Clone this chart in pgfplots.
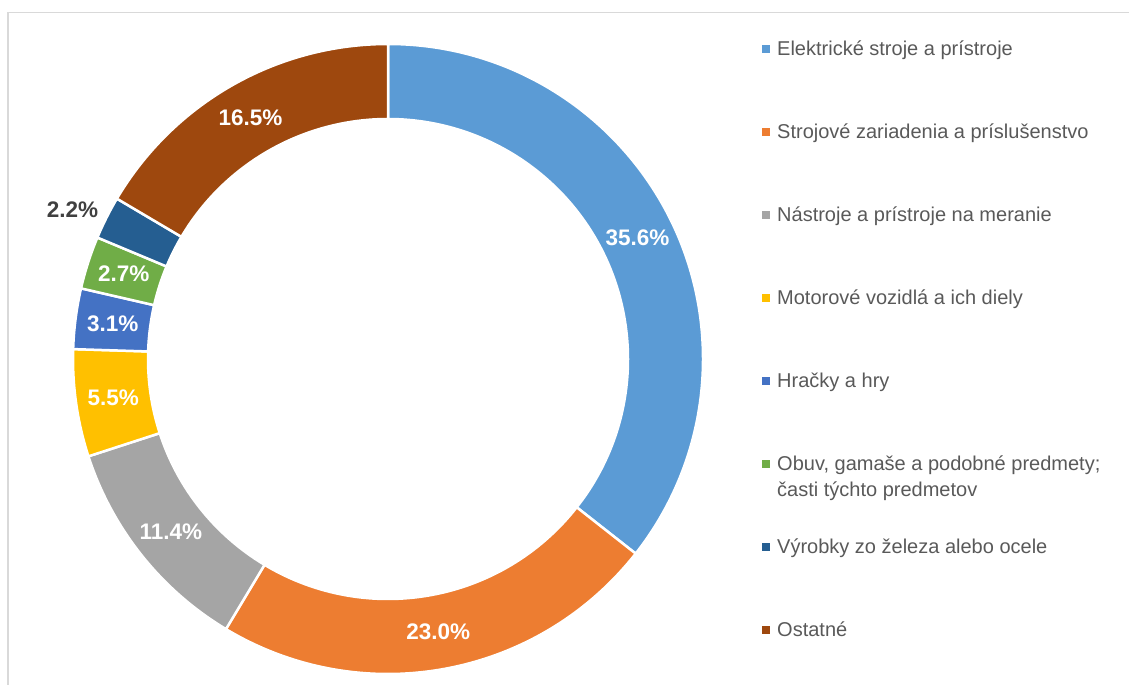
\documentclass[border=0pt]{standalone}
\usepackage{fontspec}
\setmainfont{Liberation Sans}
\usepackage{pgfplots}
\usepackage{pgfplotstable}
\pgfplotsset{compat=1.18}

\definecolor{c1}{HTML}{5B9BD5}
\definecolor{c2}{HTML}{ED7D31}
\definecolor{c3}{HTML}{A5A5A5}
\definecolor{c4}{HTML}{FFC000}
\definecolor{c5}{HTML}{4472C4}
\definecolor{c6}{HTML}{70AD47}
\definecolor{c7}{HTML}{255E91}
\definecolor{c8}{HTML}{9E480E}
\definecolor{dark}{HTML}{404040}
\definecolor{legtext}{HTML}{595959}
\definecolor{frame}{HTML}{D9D9D9}

% share in percent, fill, label colour, label radius (pt), label angle shift
\pgfplotstableread{
v    c  lc    lr    la
35.6 c1 white 277.5 0
23.0 c2 white 277.5 0
11.4 c3 white 277.5 0
5.5  c4 white 277.5 0
3.1  c5 white 277.5 0
2.7  c6 white 277.5 0
2.2  c7 dark  349   1.3
16.5 c8 white 277.5 0
}\donut

\newcommand\labfont{\fontsize{22.5}{26}\selectfont\bfseries}
\newcommand\legfont{\fontsize{20}{26}\selectfont}

\begin{document}
\begin{tikzpicture}
\path[use as bounding box] (0,0) rectangle (1129pt,685pt);
\begin{axis}[at={(0,0)},anchor=south west,width=1129pt,height=685pt,scale only axis,
  hide axis,clip=false,xmin=0,xmax=1129,ymin=0,ymax=685]
\draw[frame,line width=1.5pt] (axis cs:1129,672.5) -- (axis cs:8,672.5) -- (axis cs:8,0);
\def\cum{0}
\pgfplotsforeachungrouped \i in {0,...,7}{%
  \pgfplotstablegetelem{\i}{v}\of\donut \let\v\pgfplotsretval
  \pgfplotstablegetelem{\i}{c}\of\donut \let\c\pgfplotsretval
  \pgfplotstablegetelem{\i}{lc}\of\donut \let\lc\pgfplotsretval
  \pgfplotstablegetelem{\i}{lr}\of\donut \let\lr\pgfplotsretval
  \pgfplotstablegetelem{\i}{la}\of\donut \let\la\pgfplotsretval
  \pgfmathsetmacro\a{90-3.6*\cum}
  \pgfmathsetmacro\cum{\cum+\v}
  \pgfmathsetmacro\b{90-3.6*\cum}
  \pgfmathsetmacro\m{(\a+\b)/2+\la}
  \edef\temp{\noexpand\draw[fill=\c,draw=white,line width=2.5pt]
    ([shift={(\a:315pt)}]axis cs:388,326) arc[start angle=\a,end angle=\b,radius=315pt]
    -- ([shift={(\b:240pt)}]axis cs:388,326) arc[start angle=\b,end angle=\a,radius=240pt] -- cycle;
    \noexpand\node[text=\lc,font=\noexpand\labfont] at ([shift={(\m:\lr pt)}]axis cs:388,326) {\v\noexpand\%};}
  \temp
}
% legend
\pgfplotsinvokeforeach{%
  1/636/{Elektrické stroje a prístroje},
  2/553/{Strojové zariadenia a príslušenstvo},
  3/470/{Nástroje a prístroje na meranie},
  4/387/{Motorové vozidlá a ich diely},
  5/304/{Hračky a hry},
  6/221/{Obuv, gamaše a podobné predmety;},
  7/138/{Výrobky zo železa alebo ocele},
  8/55/{Ostatné}}{%
  \pgfkeys{/legitem/.code args={##1/##2/##3}{%
    \fill[c##1] (axis cs:762,##2-3.75) rectangle (axis cs:769.5,##2+3.75);
    \node[anchor=base west,inner sep=0pt,text=legtext,font=\legfont] at (axis cs:777,##2-7) {##3};}}
  \pgfkeys{/legitem=#1}
}
\node[anchor=base west,inner sep=0pt,text=legtext,font=\legfont] at (axis cs:777,195-7) {časti týchto predmetov};
\end{axis}
\end{tikzpicture}
\end{document}
